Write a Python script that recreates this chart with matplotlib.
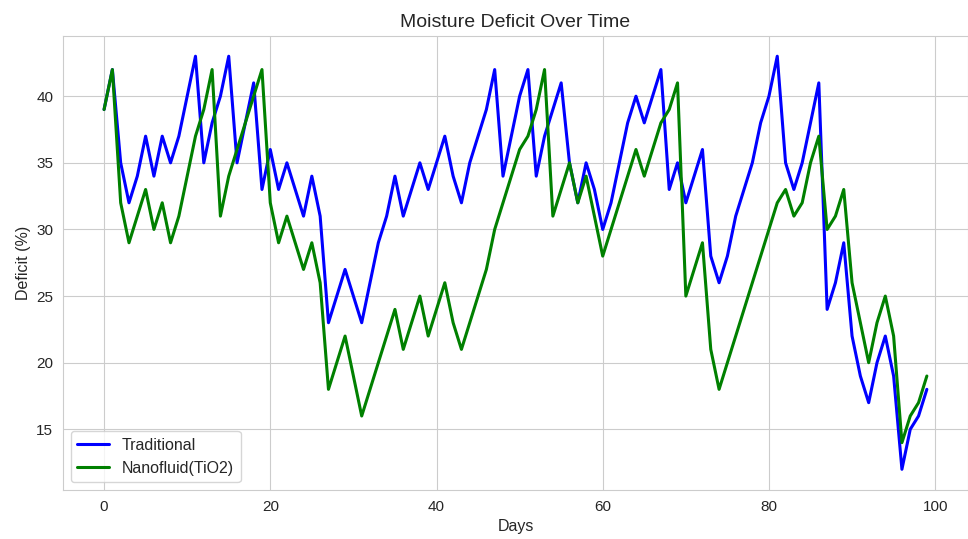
import matplotlib
matplotlib.use("Agg")
import matplotlib.pyplot as plt
import seaborn as sns

# Datos
days = list(range(100))
traditional = [39, 42, 35, 32, 34, 37, 34, 37, 35, 37,
               40, 43, 35, 38, 40, 43, 35, 38, 41, 33,
               36, 33, 35, 33, 31, 34, 31, 23, 25, 27,
               25, 23, 26, 29, 31, 34, 31, 33, 35, 33,
               35, 37, 34, 32, 35, 37, 39, 42, 34, 37,
               40, 42, 34, 37, 39, 41, 35, 32, 35, 33,
               30, 32, 35, 38, 40, 38, 40, 42, 33, 35,
               32, 34, 36, 28, 26, 28, 31, 33, 35, 38,
               40, 43, 35, 33, 35, 38, 41, 24, 26, 29,
               22, 19, 17, 20, 22, 19, 12, 15, 16, 18]
nanofluid = [39, 42, 32, 29, 31, 33, 30, 32, 29, 31,
             34, 37, 39, 42, 31, 34, 36, 38, 40, 42,
             32, 29, 31, 29, 27, 29, 26, 18, 20, 22,
             19, 16, 18, 20, 22, 24, 21, 23, 25, 22,
             24, 26, 23, 21, 23, 25, 27, 30, 32, 34,
             36, 37, 39, 42, 31, 33, 35, 32, 34, 31,
             28, 30, 32, 34, 36, 34, 36, 38, 39, 41,
             25, 27, 29, 21, 18, 20, 22, 24, 26, 28,
             30, 32, 33, 31, 32, 35, 37, 30, 31, 33,
             26, 23, 20, 23, 25, 22, 14, 16, 17, 19]

sns.set_style("whitegrid")
plt.rcParams['font.family'] = ['Liberation Sans', 'DejaVu Sans']

fig, ax = plt.subplots(figsize=(9.68, 5.39), dpi=100)
fig.subplots_adjust(left=0.065, right=1.0, top=0.934, bottom=0.091)

ax.plot(days, traditional, color="blue", linewidth=2.2, label="Traditional")
ax.plot(days, nanofluid, color="green", linewidth=2.2, label="Nanofluid(TiO2)")

# Configuracion de la grafica
ax.set_title("Moisture Deficit Over Time", fontsize=14, color="#262626")
ax.set_xlabel("Days", fontsize=11.5)
ax.set_ylabel("Deficit (%)", fontsize=11.5)
ax.tick_params(labelsize=11)
ax.legend(loc="lower left", fontsize=11.5)

fig.savefig("out.png")
